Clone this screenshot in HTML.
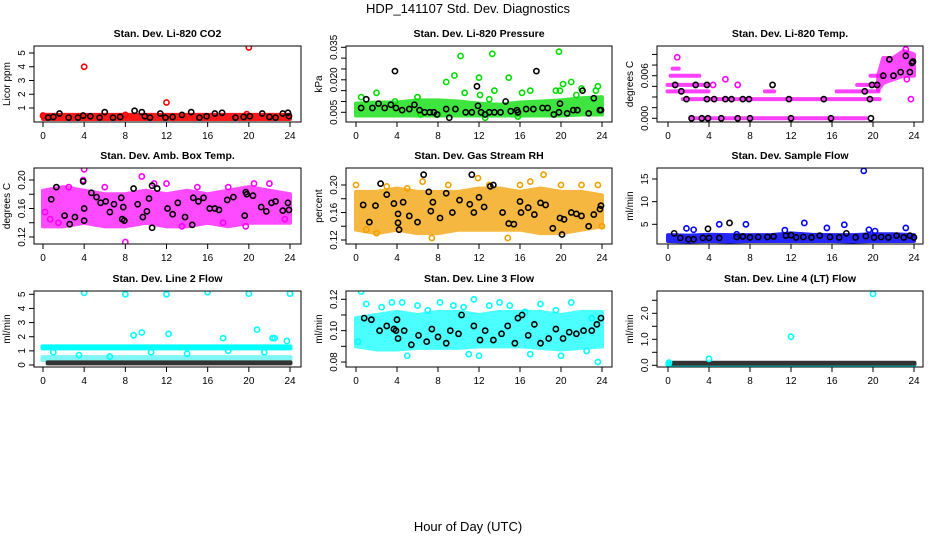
<!DOCTYPE html>
<html><head><meta charset="utf-8"><style>
body{margin:0;background:#fff}
svg{display:block;font-family:"Liberation Sans",sans-serif}
</style></head><body>
<svg id="c" width="936" height="540"></svg>
<script>
// ---------- data ----------
const hours13=[0,2,4,6,8,10,12,14,16,18,20,22,24];
// P1 CO2
const co2BandLo=[0.2,0.2,0.2,0.2,0.2,0.2,0.2,0.2,0.2,0.2,0.2,0.2,0.2];
const co2BandHi=[0.5,0.5,0.5,0.5,0.5,0.5,0.5,0.5,0.5,0.5,0.5,0.5,0.5];
const co2RedX=[4,12,20,0,8,19.8];
const co2RedY=[4.0,1.4,5.4,0.45,0.5,0.55];
const co2BlkX=[0.5,1,1.6,2.5,3.4,3.9,4.6,5.5,6,6.8,7.5,8.9,9.6,9.9,10.4,11.4,11.9,12.6,13.5,14.4,15.2,15.9,16.7,17.4,18.7,19.5,20.1,21.3,22,22.6,23.3,23.8,23.9];
const co2BlkY=[0.3,0.35,0.6,0.3,0.3,0.45,0.4,0.3,0.7,0.3,0.35,0.8,0.7,0.4,0.3,0.6,0.3,0.35,0.5,0.7,0.3,0.4,0.6,0.65,0.3,0.35,0.4,0.6,0.35,0.3,0.6,0.65,0.4];
// P2 pressure
const prBandLo=[0.0035,0.0035,0.0035,0.0035,0.0035,0.0035,0.0035,0.0035,0.0035,0.0035,0.0035,0.004,0.004];
const prBandHi=[0.009,0.0095,0.0095,0.0105,0.0105,0.01,0.009,0.0085,0.0095,0.01,0.0105,0.0115,0.012];
const prGrnX=[0.5,2,3.8,6,8.8,9.6,10.2,10.6,12,12.1,12.6,13,13.3,13.5,14.9,15.8,16.2,17,19.5,19.8,19.9,20.2,21,21.5,22,23.4,23.6,8,6.3];
const prGrnY=[0.012,0.014,0.01,0.012,0.019,0.022,0.031,0.014,0.021,0.013,0.0025,0.011,0.032,0.015,0.021,0.003,0.014,0.015,0.015,0.033,0.015,0.018,0.019,0.013,0.016,0.015,0.017,0.004,0.004];
const prBlkX=[1,0.5,1.6,2.2,2.8,3.4,3.8,3.9,4.5,5.2,5.7,6.2,6.7,7.2,7.6,7.9,8.8,9.1,9.7,10.7,11.3,11.8,11.9,12.2,12.6,13,13.5,14.1,14.6,15.1,15.7,15.8,16.6,17.3,17.6,18.2,18.7,19.3,19.8,19.9,20.6,21.2,21.6,22.1,22.7,23.2,23.8,23.9];
const prBlkY=[0.011,0.007,0.007,0.009,0.007,0.0085,0.024,0.007,0.006,0.0065,0.0085,0.006,0.005,0.005,0.005,0.004,0.0065,0.0025,0.0065,0.005,0.005,0.017,0.008,0.005,0.004,0.005,0.005,0.005,0.01,0.0055,0.006,0.005,0.0065,0.0065,0.024,0.007,0.007,0.004,0.005,0.009,0.0045,0.006,0.006,0.015,0.0045,0.0115,0.006,0.006];
// P3 Li-820 temp
const tpRunLevel=[0,0.0027,0.0038,0.0038,0.0038,0.0047,0.0047,0.006,0.006,0.007];
const tpRunStart=[2.3,1.5,0,9.5,16.5,0,18.5,0.3,19.8,0.5];
const tpRunEnd=[19.3,20.6,3.9,10.3,20.5,3.8,20.5,3,21,1];
const tpBandX=[20.5,21,22,23,24];
const tpBandLo=[0.004,0.005,0.0055,0.006,0.006];
const tpBandHi=[0.006,0.0085,0.0085,0.0095,0.009];
const tpMagX=[0.9,5.6,23.2,23.7,23.3,6.8,4.4];
const tpMagY=[0.0086,0.0055,0.0097,0.0027,0.0055,0.0047,0.0047];
const tpBlkX=[0.7,1.3,1.8,2.3,2.7,3.3,3.8,3.8,3.9,4.5,5.2,5.6,6.2,6.8,7.3,7.9,8,10.2,11.8,12,15.2,15.9,19.2,19.7,19.8,19.9,20.4,21,21.6,22,22.7,23.2,23.6,23.8,23.9];
const tpBlkY=[0.0047,0.0038,0.0027,0,0.0047,0,0.0047,0.0027,0,0.0027,0,0.0027,0.0027,0,0.0027,0.0027,0,0.0047,0.0027,0,0.0027,0,0.0038,0.0027,0,0.0047,0.0047,0.006,0.0083,0.006,0.0065,0.0088,0.0065,0.0078,0.008];
// P4 amb box temp
const abBandLo=[0.135,0.135,0.14,0.135,0.135,0.14,0.135,0.135,0.14,0.135,0.14,0.14,0.14];
const abBandHi=[0.185,0.19,0.185,0.18,0.18,0.185,0.18,0.185,0.18,0.185,0.19,0.185,0.18];
const abMagX=[4,8,9.6,3.9,10.8,20.5,22,0.7,1.5,13.5,19.7,17.5,0.2,2.5,6,12,15,18,23.5];
const abMagY=[0.215,0.113,0.205,0.2,0.195,0.195,0.195,0.145,0.14,0.135,0.135,0.14,0.155,0.19,0.19,0.195,0.19,0.19,0.145];
const abBlkX=[0.8,1.3,2.1,2.6,3.1,3.9,4,4,4.7,5.2,5.6,6.1,6.5,6.9,7.6,7.7,7.8,7.9,8.8,9.2,9.7,10.1,10.3,10.6,10.6,11.1,12.1,12.6,13.1,13.8,14.5,14.6,15.1,15.6,16.2,16.7,17.1,17.9,18.5,19.6,19.7,19.8,20.4,21.2,21.7,22.2,22.6,23.3,23.8,23.9];
const abBlkY=[0.173,0.19,0.15,0.138,0.148,0.198,0.16,0.143,0.182,0.176,0.168,0.17,0.155,0.166,0.175,0.145,0.162,0.143,0.188,0.166,0.148,0.156,0.174,0.133,0.192,0.188,0.16,0.152,0.168,0.148,0.137,0.175,0.17,0.175,0.16,0.16,0.158,0.172,0.176,0.15,0.183,0.18,0.178,0.162,0.156,0.168,0.17,0.157,0.168,0.158];
// P5 gas stream RH
const rhBandLo=[0.135,0.13,0.135,0.13,0.13,0.135,0.135,0.135,0.135,0.13,0.13,0.135,0.14];
const rhBandHi=[0.19,0.19,0.195,0.19,0.19,0.19,0.195,0.195,0.19,0.195,0.19,0.19,0.185];
const rhOrX=[0,11.9,18.3,23.6,7.4,14.8,1,3,5,9,13,16,20,22,24,2,6.5,17];
const rhOrY=[0.2,0.21,0.215,0.2,0.123,0.123,0.135,0.198,0.195,0.2,0.2,0.2,0.2,0.2,0.14,0.13,0.205,0.205];
const rhBlkX=[0.7,1.3,1.9,2.4,3,3.7,4.1,4.1,4.2,4.6,5.2,6,6.6,7.1,7.3,7.5,8.2,8.8,9.4,10.1,11.1,11.3,11.5,12,12.5,13.1,13.4,14.3,14.9,15.4,16,16.1,16.8,17.4,18,18.5,19.2,19.9,20.1,20.3,21,21.5,22,22.7,23.2,23.8,23.9];
const rhBlkY=[0.171,0.146,0.17,0.202,0.186,0.173,0.158,0.145,0.135,0.175,0.155,0.146,0.215,0.19,0.162,0.175,0.152,0.188,0.16,0.178,0.172,0.215,0.16,0.182,0.168,0.198,0.2,0.16,0.144,0.143,0.176,0.16,0.167,0.157,0.174,0.171,0.137,0.152,0.128,0.15,0.16,0.158,0.155,0.14,0.157,0.165,0.17];
// P6 sample flow
const sfBandLo=[1.3,1.2,1.3,1.2,1.3,1.3,1.3,1.3,1.3,1.2,1.3,1.3,1.3];
const sfBandHi=[2.6,2.5,2.7,2.6,2.6,2.6,3,2.7,2.6,2.6,2.8,2.8,2.6];
const sfBluX=[1.8,2.5,5,7.6,11.4,13.3,15.5,17.2,19.1,19.6,20.2,23.2,6.7];
const sfBluY=[4.1,3.8,5.0,5.0,3.7,5.3,4.2,4.9,16.8,3.8,3.5,4.2,2.8];
const sfBlkX=[0.6,1.2,2,2.5,3.4,3.9,4,5,6,6.7,7.3,8,8.8,9.7,10.3,11.5,12,12.5,13.2,14,14.8,15.8,16.7,17.4,18.3,19.3,20.1,20.8,21.5,22.3,23,23.6,24];
const sfBlkY=[3,2,1.7,1.7,2,4.0,2,2,5.3,2.2,2.3,2.1,2.2,2.2,2.3,2.5,2.6,2.1,2.2,2.1,2.5,2.2,2.1,3.0,2.1,2.4,2.1,2.2,2.1,2.5,2.1,2.5,2.1];
// P7 line 2 flow
const l2RunLevel=[1.25,0.45,0.15];
const l2RunStart=[0,0,0.5];
const l2RunEnd=[24,24,24];
const l2CyX=[4,8,12,16,20,24,8.8,9.6,12.2,17.5,20.8,22.3,23.7,1,3.5,6.5,10.5,14,18,21.5,22.5];
const l2CyY=[5.1,5.0,5.0,5.15,5.05,5.05,2.1,2.3,2.2,1.9,2.5,1.9,1.7,0.9,0.7,0.6,0.9,0.8,1.0,0.9,1.9];
// P8 line 3 flow
const l3BandLo=[0.09,0.088,0.088,0.089,0.089,0.089,0.09,0.09,0.09,0.089,0.088,0.089,0.09];
const l3BandHi=[0.108,0.11,0.112,0.11,0.112,0.112,0.11,0.112,0.112,0.112,0.11,0.112,0.112];
const l3CyX=[0.5,1,2.5,3.5,4.5,6,7,8.2,9.5,10.5,11.5,12,13,14,15,16.5,18,19.5,21,23,23.6,0.2,5,11,17,20,22.5];
const l3CyY=[0.125,0.117,0.115,0.118,0.118,0.116,0.113,0.118,0.116,0.115,0.12,0.084,0.116,0.118,0.116,0.112,0.117,0.113,0.118,0.108,0.08,0.093,0.084,0.085,0.085,0.084,0.087];
const l3BlkX=[0.8,1.5,2.3,3,3.7,3.9,4,4.1,4.7,5.4,6.1,6.9,7.4,8,8.8,9.2,10,10.3,11.5,12.1,12.6,13.4,14.2,14.8,15.5,15.8,16.2,16.8,17.4,18,18.8,19.5,20.2,20.8,21.5,22.2,23,23.5,23.9];
const l3BlkY=[0.108,0.107,0.1,0.103,0.101,0.1,0.107,0.095,0.1,0.091,0.097,0.093,0.101,0.096,0.092,0.1,0.098,0.11,0.103,0.094,0.1,0.094,0.098,0.103,0.092,0.108,0.11,0.097,0.104,0.092,0.095,0.101,0.095,0.099,0.098,0.1,0.1,0.104,0.108];
// P9 line 4 flow
const l4RunLevel=[0.05,0.08];
const l4RunStart=[0,0.5];
const l4RunEnd=[24,24];
const l4CyX=[4,12,20,0.1];
const l4CyY=[0.25,1.1,2.75,0.1];

// ---------- drawing ----------
const NS="http://www.w3.org/2000/svg";
const svg=document.getElementById('c');
function mk(tag,attrs,parent){const e=document.createElementNS(NS,tag);for(const k in attrs)e.setAttribute(k,attrs[k]);(parent||svg).appendChild(e);return e;}

const cols=[{l:34,r:301,x0:43,x24:290},{l:346,r:612,x0:356,x24:602},{l:657,r:923,x0:668,x24:914}];
const rows=[{t:46,b:122},{t:168,b:244},{t:291,b:367}];

const panels=[
 {name:'co2',title:'Stan. Dev. Li-820 CO2',yl:'Licor ppm',c:0,r:0,v1:1,p1:108,v2:5,p2:53,ticks:[1,2,3,4,5],labs:[1,2,3,4,5],dec:0,col:'#ff0000',op:0.9,
  bx:hours13,blo:co2BandLo,bhi:co2BandHi,cx:co2RedX,cy:co2RedY,kx:co2BlkX,ky:co2BlkY},
 {name:'pressure',title:'Stan. Dev. Li-820 Pressure',yl:'kPa',c:1,r:0,v1:0.005,p1:112.3,v2:0.035,p2:47.3,ticks:[0.005,0.01,0.015,0.02,0.025,0.03,0.035],labs:[0.005,0.02,0.035],dec:3,col:'#00dd00',op:0.75,
  bx:hours13,blo:prBandLo,bhi:prBandHi,cx:prGrnX,cy:prGrnY,kx:prBlkX,ky:prBlkY},
 {name:'li820-temp',title:'Stan. Dev. Li-820 Temp.',yl:'degrees C',c:2,r:0,v1:0,p1:118.3,v2:0.006,p2:75.7,ticks:[0,0.0015,0.003,0.0045,0.006,0.0075,0.009],labs:[0,0.006],dec:3,col:'#ff00ff',op:0.7,
  bx:tpBandX,blo:tpBandLo,bhi:tpBandHi,cx:tpMagX,cy:tpMagY,kx:tpBlkX,ky:tpBlkY,rl:tpRunLevel,rs:tpRunStart,re:tpRunEnd,rc:'#ff00ff'},
 {name:'amb-box-temp',title:'Stan. Dev. Amb. Box Temp.',yl:'degrees C',c:0,r:1,v1:0.12,p1:237,v2:0.2,p2:180,ticks:[0.12,0.14,0.16,0.18,0.2],labs:[0.12,0.16,0.2],dec:2,col:'#ff00ff',op:0.7,
  bx:hours13,blo:abBandLo,bhi:abBandHi,cx:abMagX,cy:abMagY,kx:abBlkX,ky:abBlkY},
 {name:'gas-stream-rh',title:'Stan. Dev. Gas Stream RH',yl:'percent',c:1,r:1,v1:0.12,p1:240,v2:0.2,p2:185,ticks:[0.12,0.14,0.16,0.18,0.2],labs:[0.12,0.16,0.2],dec:2,col:'#f2a000',op:0.75,
  bx:hours13,blo:rhBandLo,bhi:rhBandHi,cx:rhOrX,cy:rhOrY,kx:rhBlkX,ky:rhBlkY},
 {name:'sample-flow',title:'Stan. Dev. Sample Flow',yl:'ml/min',c:2,r:1,v1:5,p1:224.3,v2:15,p2:179,ticks:[5,10,15],labs:[5,10,15],dec:0,col:'#0000ff',op:0.85,
  bx:hours13,blo:sfBandLo,bhi:sfBandHi,cx:sfBluX,cy:sfBluY,kx:sfBlkX,ky:sfBlkY},
 {name:'line2-flow',title:'Stan. Dev. Line 2 Flow',yl:'ml/min',c:0,r:2,v1:0,p1:365,v2:5,p2:294.3,ticks:[0,1,2,3,4,5],labs:[0,1,2,3,4,5],dec:0,col:'#00ffff',op:0.8,
  bx:[],blo:[],bhi:[],cx:l2CyX,cy:l2CyY,kx:[],ky:[],rl:l2RunLevel,rs:l2RunStart,re:l2RunEnd,rcs:['#00ffff','#7ff5f5','#333333'],rh:[6,7,5]},
 {name:'line3-flow',title:'Stan. Dev. Line 3 Flow',yl:'ml/min',c:1,r:2,v1:0.08,p1:362,v2:0.12,p2:299.3,ticks:[0.08,0.09,0.1,0.11,0.12],labs:[0.08,0.1,0.12],dec:2,col:'#00ffff',op:0.7,
  bx:hours13,blo:l3BandLo,bhi:l3BandHi,cx:l3CyX,cy:l3CyY,kx:l3BlkX,ky:l3BlkY},
 {name:'line4-flow',title:'Stan. Dev. Line 4 (LT) Flow',yl:'ml/min',c:2,r:2,v1:0,p1:365.3,v2:2,p2:313.3,ticks:[0,0.5,1,1.5,2,2.5],labs:[0,1,2],dec:1,col:'#00ffff',op:0.8,
  bx:[],blo:[],bhi:[],cx:l4CyX,cy:l4CyY,kx:[],ky:[],rl:l4RunLevel,rs:l4RunStart,re:l4RunEnd,rcs:['#00ffff','#333333'],rh:[6,5]}
];
const xTicks=[0,4,8,12,16,20,24];

const t=mk('text',{x:468,y:13,'text-anchor':'middle','font-size':13,fill:'#000'});
t.textContent='HDP_141107  Std. Dev. Diagnostics';


const xt=mk('text',{x:468,y:531,'text-anchor':'middle','font-size':13,fill:'#000'});
xt.textContent='Hour of Day (UTC)';



panels.forEach(p=>{
  const C=cols[p.c],R=rows[p.r];
  const X=h=>C.x0+(C.x24-C.x0)*h/24;
  const Y=v=>p.p1+(p.p2-p.p1)*(v-p.v1)/(p.v2-p.v1);
  const g=mk('g',{});
  
  
  const ti=mk('text',{x:(C.l+C.r)/2,y:R.t-9,'text-anchor':'middle','font-size':10.5,'font-weight':'bold',fill:'#000'},g);
  ti.textContent=p.title;
  
  
  const clip='clip-'+p.name;
  const cp=mk('clipPath',{id:clip},g);mk('rect',{x:C.l,y:R.t,width:C.r-C.l,height:R.b-R.t},cp);
  const pg=mk('g',{'clip-path':'url(#'+clip+')'},g);
  if(p.bx.length){
    let pts=p.bx.map((h,i)=>X(h)+','+Y(p.bhi[i]));
    pts=pts.concat(p.bx.map((h,i)=>X(h)+','+Y(p.blo[i])).reverse());
    const b=mk('polygon',{points:pts.join(' '),fill:p.col,stroke:p.col,'stroke-width':4,'stroke-linejoin':'round',opacity:p.op},pg);
    
    
  }
  if(p.rl){
    p.rl.forEach((lv,i)=>{
      const col=p.rcs?p.rcs[i]:p.rc, hh=p.rh?p.rh[i]:4;
      const r=mk('rect',{x:X(p.rs[i])-2.5,y:Y(lv)-hh/2,width:X(p.re[i])-X(p.rs[i])+5,height:hh,rx:2,fill:col,opacity:p.rcs?1:0.75},pg);
      
      
    });
  }
  p.cx.forEach((h,i)=>{
    const c=mk('circle',{cx:X(h),cy:Y(p.cy[i]),r:2.6,fill:'none',stroke:p.col,'stroke-width':1.6},pg);
    
    
  });
  p.kx.forEach((h,i)=>{
    const c=mk('circle',{cx:X(h),cy:Y(p.ky[i]),r:2.6,fill:'none',stroke:'#000','stroke-width':1.6},pg);
    
    
  });
  const bx=mk('rect',{x:C.l,y:R.t,width:C.r-C.l,height:R.b-R.t,fill:'none',stroke:'#000','stroke-width':1},g);
  
  
  xTicks.forEach(h=>{
    mk('line',{x1:X(h),x2:X(h),y1:R.b,y2:R.b+5,stroke:'#000'},g);
    const l=mk('text',{x:X(h),y:R.b+17,'text-anchor':'middle','font-size':10,fill:'#000'},g);
    l.textContent=h;
    
    
  });
  p.ticks.forEach(v=>{
    const y=Y(v); if(y<R.t-3||y>R.b+3) return;
    mk('line',{x1:C.l,x2:C.l-5,y1:y,y2:y,stroke:'#000'},g);
  });
  p.labs.forEach(v=>{
    const y=Y(v);
    const l=mk('text',{x:C.l-9,y:y,'text-anchor':'middle','font-size':10,fill:'#000',transform:`rotate(-90 ${C.l-9} ${y})`},g);
    l.textContent=v.toFixed(p.dec);
    
    
  });
  const yy=(R.t+R.b)/2;
  const yl=mk('text',{x:C.l-24,y:yy,'text-anchor':'middle','font-size':10,fill:'#000',transform:`rotate(-90 ${C.l-24} ${yy})`},g);
  yl.textContent=p.yl;
  
  
});
</script>
</body></html>
